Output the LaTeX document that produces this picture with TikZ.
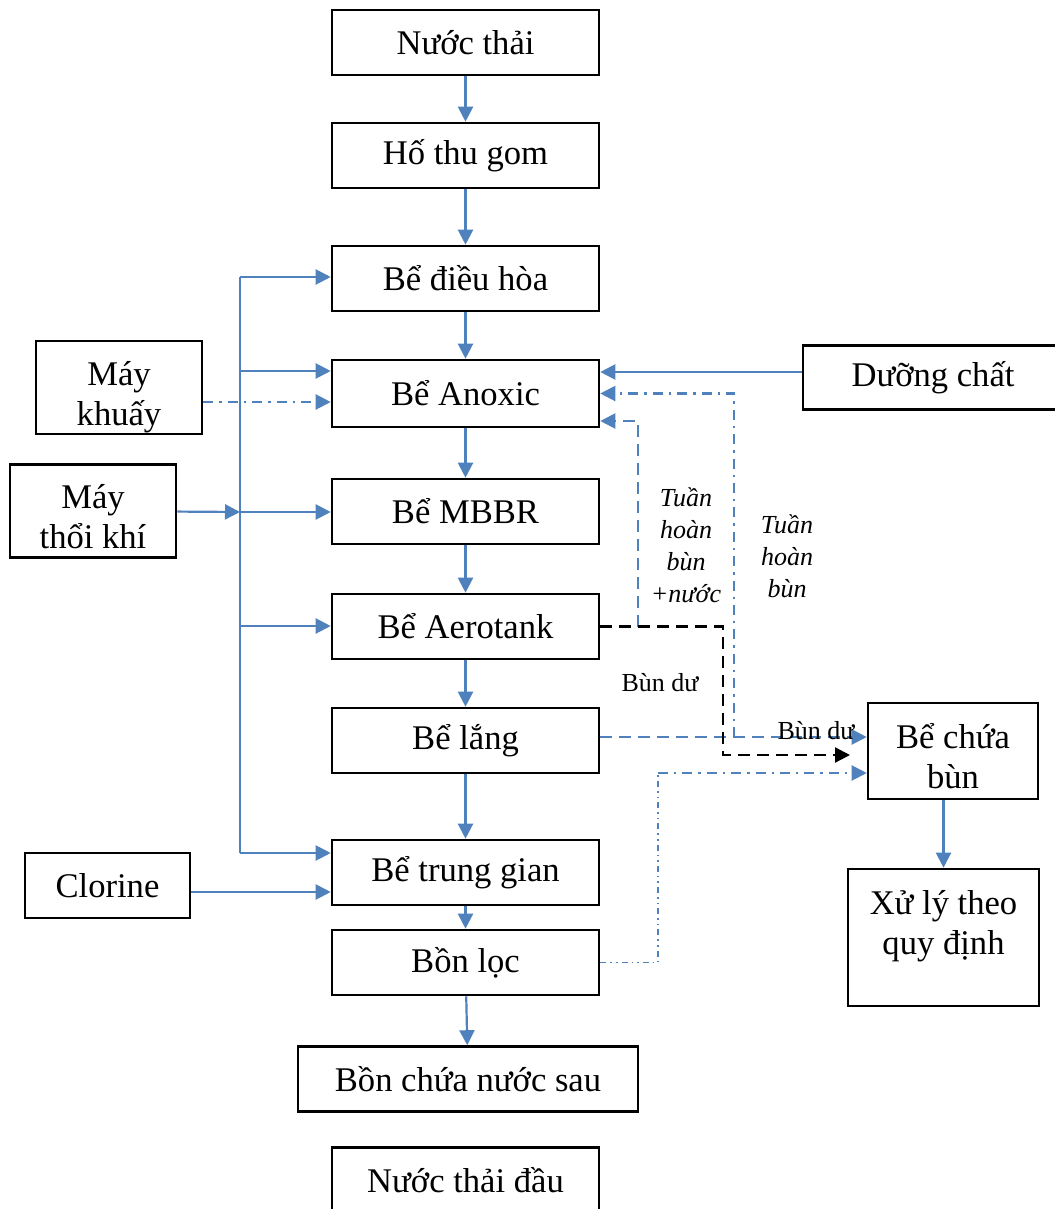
\documentclass[tikz,border=0pt]{standalone}
\usepackage{fontspec}
\setmainfont{Liberation Serif}
\usetikzlibrary{arrows.meta}
\definecolor{flowblue}{RGB}{79,129,189}

\begin{document}
\begin{tikzpicture}[x=0.5pt,y=-0.5pt,>={Triangle[length=7.5pt,width=7.5pt]},
	box/.style={draw,line width=1.3pt,minimum width=133.5pt,minimum height=32.5pt,inner sep=0pt,align=center,font=\fontsize{17.3}{20}\selectfont},
	twoline/.style={text height=41pt,text depth=3.5pt},
	flow/.style={->,color=flowblue,line width=1.1pt},
	bus/.style={color=flowblue,line width=0.8pt},
	dashline/.style={dash pattern=on 6pt off 3.5pt},
	dotline/.style={dash pattern=on 5pt off 3pt on 1.2pt off 3pt},
	small/.style={font=\fontsize{13}{16}\selectfont,align=center,inner sep=0pt}]
	\useasboundingbox (0,0) rectangle (1054,1209);
	
	%main line
	\node[box] (nuocthai) at (465.5,42.5) {Nước thải};
	\node[box] (hothu) at (465.5,155.5) {Hố thu gom};
	\node[box] (dieuhoa) at (465.5,278.5) {Bể điều hòa};
	\node[box,minimum height=33.5pt] (anoxic) at (465.5,393.5) {Bể Anoxic};
	\node[box] (mbbr) at (465.5,511.5) {Bể MBBR};
	\node[box] (aerotank) at (465.5,626.5) {Bể Aerotank};
	\node[box] (lang) at (465.5,740.5) {Bể lắng};
	\node[box] (trunggian) at (465.5,872.5) {Bể trung gian};
	\node[box] (bonloc) at (465.5,962.5) {Bồn lọc};
	\node[box,minimum width=170pt] (bonchua) at (468,1079) {Bồn chứa nước sau};
	\node[box] (nuocdau) at (465.5,1180) {Nước thải đầu};
	
	%side boxes
	\node[box,twoline,minimum width=83pt,minimum height=46.5pt] (khuay) at (119,387.5) {Máy\\khuấy};
	\node[box,twoline,minimum width=83pt,minimum height=46.5pt] (thoi) at (93,511) {Máy\\thổi khí};
	\node[box,minimum width=82.5pt] (clorine) at (107.5,885.5) {Clorine};
	\node[box,minimum width=130pt,minimum height=32pt] (duong) at (933,377.5) {Dưỡng chất};
	\node[box,twoline,minimum width=85pt,minimum height=48pt] (chuabun) at (953,751) {Bể chứa\\bùn};
	\node[box,minimum width=95.5pt,minimum height=68.5pt,text depth=15pt] (xuly) at (943.5,937.5) {Xử lý theo\\quy định};
	
	%flow down
	\foreach \a/\b in {nuocthai/hothu,hothu/dieuhoa,dieuhoa/anoxic,anoxic/mbbr,mbbr/aerotank,aerotank/lang,lang/trunggian,trunggian/bonloc,bonloc/bonchua}
	\draw[flow] (\a) -- (\b);
	
	%air line
	\coordinate (bustop) at (240,277);
	\coordinate (busanox) at (240,371);
	\coordinate (busmbbr) at (240,512);
	\coordinate (busaero) at (240,626);
	\coordinate (busbot) at (240,853);
	\draw[bus] (bustop) -- (busbot);
	\draw[flow] (bustop) -- (bustop -| dieuhoa.west);
	\draw[flow] (busanox) -- (busanox -| anoxic.west);
	\draw[flow] (thoi) -- (busmbbr);
	\draw[flow] (busmbbr) -- (busmbbr -| mbbr.west);
	\draw[flow] (busaero) -- (busaero -| aerotank.west);
	\draw[flow] (busbot) -- (busbot -| trunggian.west);
	\draw[flow,dotline] ([yshift=-7.25pt]khuay.east) -- ([yshift=-7.25pt]khuay.east -| anoxic.west);
	\draw[flow] ([yshift=-3.25pt]clorine.east) -- ([yshift=-3.25pt]clorine.east -| trunggian.west);
	
	%recirculation
	\draw[flow] ([yshift=10.75pt]anoxic.east -| duong.west) -- ([yshift=10.75pt]anoxic.east);
	\coordinate (bunlang) at ([yshift=7pt]chuabun.west);
	\coordinate (recyc) at (734,737);
	\coordinate (recnuoc) at (638,626.5);
	\draw[flow,dotline] (recyc) |- (anoxic.east);
	\draw[flow,dashline] (recnuoc) |- ([yshift=-13.75pt]anoxic.east);
	\draw[flow,dashline] (lang.east |- bunlang) -- (bunlang);
	
	%excess sludge
	\coordinate (budu1) at (723,755);
	\coordinate (budu2) at (850,755);
	\draw[->,line width=1.1pt,dashline] (aerotank.east) -| (budu1) -- (budu2);
	\coordinate (washtop) at (658,773);
	\draw[color=flowblue,line width=0.6pt,dash pattern=on 3pt off 2pt on 0.8pt off 2pt on 0.8pt off 2pt] (bonloc.east) -| (washtop);
	\draw[flow,dotline] (washtop) -- (washtop -| chuabun.west);
	\draw[flow] (xuly.north |- chuabun.south) -- (xuly.north);
	
	%labels
	\node[small,font=\fontsize{13}{16}\selectfont\itshape] (lbnuoc) at (686,545) {Tuần\\hoàn\\bùn\\+nước};
	\node[small,font=\fontsize{13}{16}\selectfont\itshape] (lbbun) at (787,556) {Tuần\\hoàn\\bùn};
	\node[small] (lbdu1) at (660,683) {Bùn dư};
	\node[small] (lbdu2) at (816,731) {Bùn dư};
\end{tikzpicture}
\end{document}
